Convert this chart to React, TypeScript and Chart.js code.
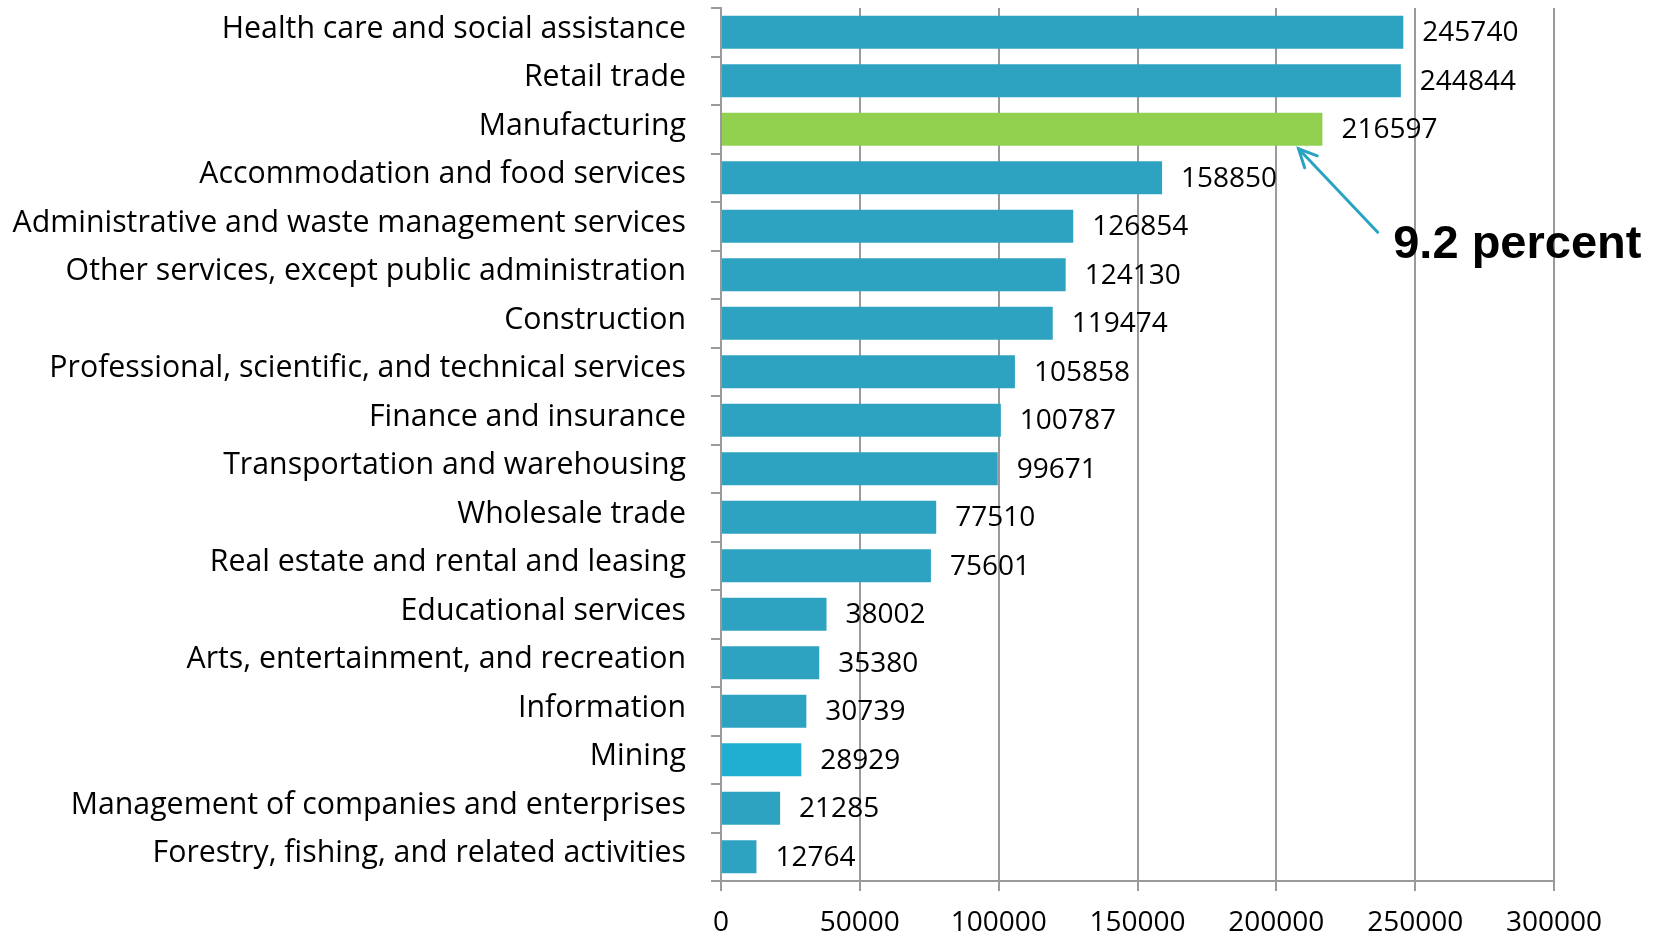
import React, { useEffect, useRef } from "react";
import { Chart, registerables } from "chart.js";

Chart.register(...registerables);

const categories = [
  "Health care and social assistance",
  "Retail trade",
  "Manufacturing",
  "Accommodation and food services",
  "Administrative and waste management services",
  "Other services, except public administration",
  "Construction",
  "Professional, scientific, and technical services",
  "Finance and insurance",
  "Transportation and warehousing",
  "Wholesale trade",
  "Real estate and rental and leasing",
  "Educational services",
  "Arts, entertainment, and recreation",
  "Information",
  "Mining",
  "Management of companies and enterprises",
  "Forestry, fishing, and related activities",
];

const values = [
  245740, 244844, 216597, 158850, 126854, 124130, 119474, 105858, 100787,
  99671, 77510, 75601, 38002, 35380, 30739, 28929, 21285, 12764,
];

const barColors = [
  "#2ea3c1", "#2ea3c1", "#92d050", "#2ea3c1", "#2ea3c1", "#2ea3c1",
  "#2ea3c1", "#2ea3c1", "#2ea3c1", "#2ea3c1", "#2ea3c1", "#2ea3c1",
  "#2ea3c1", "#2ea3c1", "#2ea3c1", "#20afd1", "#2ea3c1", "#2ea3c1",
];

const xTicks = [0, 50000, 100000, 150000, 200000, 250000, 300000];

const annotationText = "9.2 percent";
const annotationTargetIndex = 2;

const dataLabelPlugin = {
  id: "dataLabels",
  afterDatasetsDraw(chart: any) {
    const ctx = chart.ctx;
    const meta = chart.getDatasetMeta(0);
    ctx.save();
    ctx.font = '28px "Open Sans"';
    ctx.fillStyle = "#000";
    ctx.textAlign = "left";
    ctx.textBaseline = "middle";
    meta.data.forEach((bar: any, i: number) => {
      ctx.fillText(String(values[i]), bar.x + 19, bar.y + 1);
    });
    ctx.restore();
  },
};

const annotationPlugin = {
  id: "arrowNote",
  afterDatasetsDraw(chart: any) {
    const ctx = chart.ctx;
    const xs = chart.scales.x;
    const ys = chart.scales.y;
    const bar: any = chart.getDatasetMeta(0).data[annotationTargetIndex];
    const tipX = xs.getPixelForValue(208000);
    const tipY = bar.y + bar.height / 2 + 3;
    const tailX = xs.getPixelForValue(236500);
    const tailY = ys.getPixelForValue(4) + 6;
    ctx.save();
    ctx.strokeStyle = "#2aa3c2";
    ctx.lineWidth = 3;
    ctx.lineCap = "round";
    ctx.beginPath();
    ctx.moveTo(tailX, tailY);
    ctx.lineTo(tipX, tipY);
    ctx.stroke();
    const ang = Math.atan2(tipY - tailY, tipX - tailX);
    const len = 20;
    const spread = 0.45;
    ctx.beginPath();
    ctx.moveTo(tipX - len * Math.cos(ang - spread), tipY - len * Math.sin(ang - spread));
    ctx.lineTo(tipX, tipY);
    ctx.lineTo(tipX - len * Math.cos(ang + spread), tipY - len * Math.sin(ang + spread));
    ctx.stroke();
    ctx.font = 'bold 47px "Liberation Sans", Arial, sans-serif';
    ctx.fillStyle = "#000";
    ctx.textAlign = "left";
    ctx.textBaseline = "alphabetic";
    ctx.fillText(annotationText, xs.getPixelForValue(242100), ys.getPixelForValue(4) + 32);
    ctx.restore();
  },
};

export default function App() {
  const ref = useRef<HTMLCanvasElement>(null);
  useEffect(() => {
    if (!ref.current) return;
    const chart = new Chart(ref.current, {
      type: "bar",
      data: {
        labels: categories,
        datasets: [
          {
            data: values,
            backgroundColor: barColors,
            borderWidth: 0,
            barPercentage: 0.68,
            categoryPercentage: 1,
          },
        ],
      },
      options: {
        indexAxis: "y",
        animation: false,
        responsive: true,
        maintainAspectRatio: false,
        layout: { padding: { top: 8, right: 110, left: 0, bottom: 0 } },
        plugins: {
          legend: { display: false },
          tooltip: { enabled: false },
          title: { display: false },
        },
        scales: {
          x: {
            min: 0,
            max: 300000,
            afterBuildTicks: (scale: any) => {
              scale.ticks = xTicks.map((v) => ({ value: v }));
            },
            afterFit: (scale: any) => {
              scale.height = 53;
              scale.paddingLeft = 0;
              scale.paddingRight = 0;
            },
            grid: {
              color: "#9a9a9a",
              lineWidth: 2,
              tickLength: 10,
              drawTicks: true,
            },
            border: { color: "#9a9a9a", width: 2 },
            ticks: {
              color: "#000",
              font: { family: "Open Sans", size: 28 },
              padding: 15,
              maxRotation: 0,
              autoSkip: false,
              callback: (v: any) => String(v),
            },
          },
          y: {
            afterFit: (scale: any) => {
              scale.width = 721;
              scale.paddingTop = 0;
              scale.paddingBottom = 0;
            },
            grid: {
              drawOnChartArea: false,
              drawTicks: true,
              tickLength: 10,
              color: "#9a9a9a",
              lineWidth: 2,
              offset: true,
            },
            border: { color: "#9a9a9a", width: 2 },
            ticks: {
              color: "#000",
              font: { family: "Open Sans", size: 30.3 },
              padding: 25,
              autoSkip: false,
              labelOffset: -3,
            },
          },
        },
      },
      plugins: [dataLabelPlugin, annotationPlugin],
    });
    return () => chart.destroy();
  }, []);
  return (
    <div style={{ position: "fixed", left: 0, top: 0, width: 1664, height: 934, background: "#fff" }}>
      <canvas ref={ref} />
    </div>
  );
}
